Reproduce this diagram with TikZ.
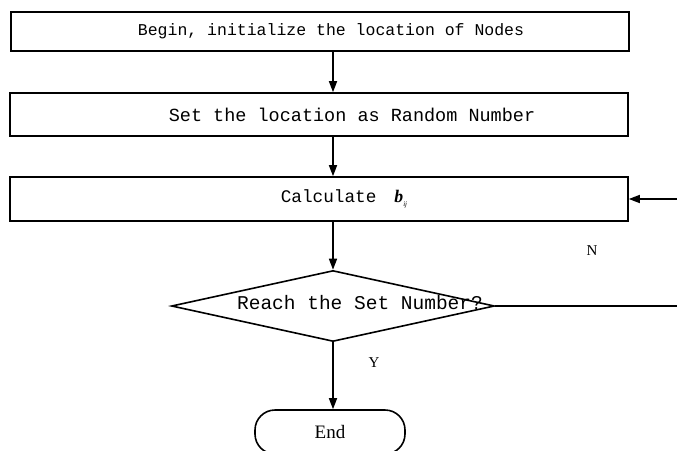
\documentclass[tikz,border=0pt]{standalone}
\usepackage{fontspec}
\setmainfont{Liberation Serif}
\setmonofont{Liberation Mono}
\usetikzlibrary{arrows.meta,shapes.geometric,calc}
\begin{document}
\begin{tikzpicture}[x=1pt,y=-1pt,
  box/.style={draw,line width=1.6pt,minimum width=618pt,inner sep=0pt,font=\ttfamily},
  arr/.style={line width=1.6pt,-{Triangle[length=11pt,width=8pt]}},
  lbl/.style={font=\fontsize{15}{15}\selectfont}]
\useasboundingbox (0,0) rectangle (677,450);
\clip (0,0) rectangle (677,450);
\node[box,minimum height=39pt,font=\ttfamily\fontsize{16.5}{16.5}\selectfont] (b1) at (320,31.5)
  {\hspace*{22pt}Begin, initialize the location of Nodes};
\node[box,minimum height=43pt,font=\ttfamily\fontsize{18.5}{18.5}\selectfont] (b2) at (319,114.5)
  {\hspace*{66pt}Set the location as Random Number};
\node[box,minimum height=44pt,font=\ttfamily\fontsize{17.7}{17.7}\selectfont] (b3) at (319,199)
  {\hspace*{50pt}Calculate\hspace{18pt}{\rmfamily\bfseries\itshape b}\raisebox{-4pt}{\rmfamily\itshape\fontsize{7}{7}\selectfont ij}};
\node[draw,diamond,line width=1.6pt,minimum width=323pt,minimum height=71pt,inner sep=0pt] (d) at (333,306) {};
\node[font=\ttfamily\fontsize{19.5}{19.5}\selectfont,inner sep=0pt] (dt) at (360,303) {Reach the Set Number?};
\node[draw,line width=1.6pt,rounded corners=20pt,minimum width=150pt,minimum height=44pt,
  font=\fontsize{19}{19}\selectfont] (e) at (330,432) {End};
\coordinate (lp) at (700,0);
\draw[arr] (b1.south -| d.north) -- (b2.north -| d.north);
\draw[arr] (b2.south -| d.north) -- (b3.north -| d.north);
\draw[arr] (b3.south -| d.north) -- (d.north);
\draw[arr] (d.south) -- (d.south |- e.north);
\draw[arr] (d.east) -- (d.east -| lp) |- (b3.east);
\node[lbl] (n) at (592,251) {N};
\node[lbl] (y) at (374,363) {Y};
\end{tikzpicture}
\end{document}
